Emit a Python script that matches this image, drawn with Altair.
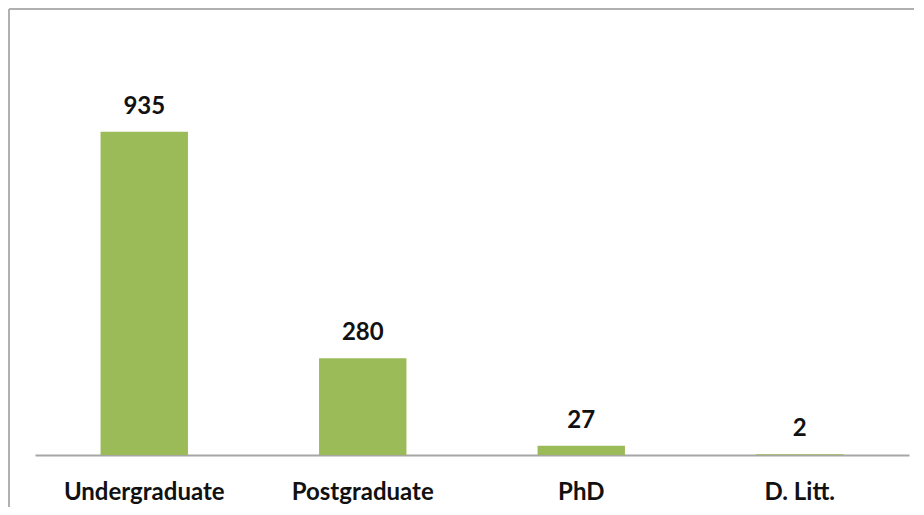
import altair as alt
import pandas as pd

categories = ["Undergraduate", "Postgraduate", "PhD", "D. Litt."]
values = [935, 280, 27, 2]

df = pd.DataFrame({"level": categories, "count": values})

W, H = 874, 415
PAD = {"left": 27, "top": 32, "right": 5, "bottom": 52}

x_enc = alt.X("level:N", sort=categories,
              scale=alt.Scale(paddingInner=0.6, paddingOuter=0.3),
              axis=alt.Axis(title=None, labelAngle=0, ticks=False, domain=True,
                            domainColor="#a6a6a6", domainWidth=2,
                            labelFont="Lato", labelFontSize=24, labelFontWeight="bold",
                            labelColor="#111111", labelPadding=25))
y_enc = alt.Y("count:Q", scale=alt.Scale(domain=[0, 1200]), axis=None)

bars = alt.Chart(df).mark_bar(color="#9BBB59").encode(x=x_enc, y=y_enc)

labels = alt.Chart(df).mark_text(font="Lato", fontSize=24, fontWeight="bold",
                                 color="#111111", baseline="middle", dy=-25).encode(
    x=alt.X("level:N", sort=categories), y="count:Q", text="count:Q")

frame_src = pd.DataFrame({"k": [0]})
top_line = alt.Chart(frame_src).mark_rule(color="#b0b0b0", strokeWidth=2).encode(
    x=alt.value(-26), x2=alt.value(W + 10), y=alt.value(-31))
left_line = alt.Chart(frame_src).mark_rule(color="#b0b0b0", strokeWidth=2).encode(
    x=alt.value(-26), y=alt.value(-31), y2=alt.value(H + 60))

chart = alt.layer(top_line, left_line, bars, labels).properties(
    width=W, height=H,
    autosize=alt.AutoSizeParams(type="none"),
    padding=PAD,
    background="white",
).configure_view(stroke=None)

chart.save("out.html", embed_options={"renderer": "svg", "actions": False})
